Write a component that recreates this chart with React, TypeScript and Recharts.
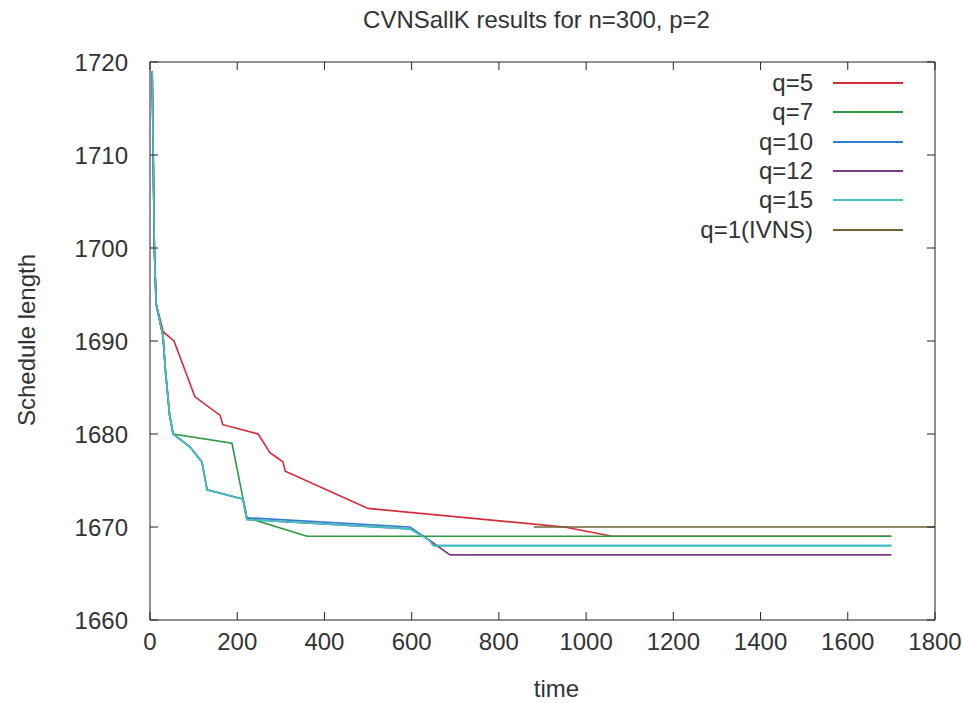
import { LineChart, Line, XAxis, YAxis } from "recharts";

// time (x) and schedule length (y), per series
const Q5_T = [5, 10, 14, 25, 30, 55, 103, 161, 167, 248, 275, 290, 305, 310, 500, 950, 1060, 1700];
const Q5_V = [1719, 1700, 1694, 1692, 1691, 1690, 1684, 1682, 1681, 1680, 1678, 1677.5, 1677, 1676, 1672, 1670, 1669, 1669];

const Q7_T = [5, 10, 14, 23, 30, 35, 45, 53, 188, 222, 360, 1700];
const Q7_V = [1719, 1700, 1694, 1692, 1690.5, 1687, 1682, 1680, 1679, 1671, 1669, 1669];

const Q10_T = [5, 10, 14, 23, 30, 35, 45, 53, 92, 119, 131, 213, 222, 596, 640, 650, 1700];
const Q10_V = [1719, 1700, 1694, 1692, 1690.5, 1687, 1682, 1680, 1678.6, 1677, 1674, 1673, 1671, 1670, 1668.6, 1668, 1668];

const Q12_T = [5, 10, 14, 23, 30, 35, 45, 53, 92, 119, 131, 213, 222, 596, 640, 688, 1700];
const Q12_V = [1719, 1700, 1694, 1692, 1690.5, 1687, 1682, 1680, 1678.6, 1677, 1674, 1673, 1670.8, 1669.8, 1668.6, 1667, 1667];

const Q15_T = [5, 10, 14, 23, 30, 35, 45, 53, 92, 119, 131, 213, 222, 596, 640, 650, 1700];
const Q15_V = [1719, 1700, 1694, 1692, 1690.5, 1687, 1682, 1680, 1678.6, 1677, 1674, 1673, 1670.8, 1669.8, 1668.6, 1668, 1668];

const Q1_T = [880, 1800];
const Q1_V = [1670, 1670];

const X_TICKS = [0, 200, 400, 600, 800, 1000, 1200, 1400, 1600, 1800];
const Y_TICKS = [1660, 1670, 1680, 1690, 1700, 1710, 1720];

const FONT = "'Liberation Sans', Arial, sans-serif";
const INK = "#333";

const toPoints = (ts: number[], vs: number[]) => ts.map((t, i) => ({ t, v: vs[i] }));

const SERIES = [
  { name: "q=5", color: "#d42a3a", data: toPoints(Q5_T, Q5_V) },
  { name: "q=7", color: "#2e9a40", data: toPoints(Q7_T, Q7_V) },
  { name: "q=10", color: "#2f7fd0", data: toPoints(Q10_T, Q10_V) },
  { name: "q=12", color: "#7a3a86", data: toPoints(Q12_T, Q12_V) },
  { name: "q=15", color: "#3cc8c0", data: toPoints(Q15_T, Q15_V) },
  { name: "q=1(IVNS)", color: "#6e6438", data: toPoints(Q1_T, Q1_V) },
];

const BottomTick = (props: any) => {
  const { x, y, payload } = props;
  return (
    <g>
      <line x1={x} y1={y} x2={x} y2={y - 8} stroke="#222" />
      <text x={x} y={y + 30} textAnchor="middle" fontSize={24} fontFamily={FONT} fill={INK}>
        {payload.value}
      </text>
    </g>
  );
};

const TopTick = (props: any) => {
  const { x, y } = props;
  return <line x1={x} y1={y} x2={x} y2={y + 8} stroke="#222" />;
};

const LeftTick = (props: any) => {
  const { x, y, payload } = props;
  return (
    <g>
      <line x1={x} y1={y} x2={x + 8} y2={y} stroke="#222" />
      <text x={x - 22} y={y + 9} textAnchor="end" fontSize={24} fontFamily={FONT} fill={INK}>
        {payload.value}
      </text>
    </g>
  );
};

const RightTick = (props: any) => {
  const { x, y } = props;
  return <line x1={x - 8} y1={y} x2={x} y2={y} stroke="#222" />;
};

export default function App() {
  return (
    <div
      style={{
        position: "absolute",
        left: 0,
        top: 0,
        width: 963,
        height: 703,
        background: "#fff",
        fontFamily: FONT,
        color: INK,
      }}
    >
      <div style={{ position: "absolute", left: 0, width: 963, top: 6, textAlign: "center", fontSize: 24, paddingLeft: 110, boxSizing: "border-box" }}>
        CVNSallK results for n=300, p=2
      </div>
      <LineChart width={963} height={703} margin={{ top: 61, right: 27, bottom: 53, left: 90 }}>
        <XAxis
          dataKey="t"
          type="number"
          domain={[0, 1800]}
          ticks={X_TICKS}
          allowDataOverflow
          height={30}
          tickSize={0}
          tickMargin={0}
          axisLine={{ stroke: "#222" }}
          tick={BottomTick}
        />
        <XAxis
          xAxisId="top"
          orientation="top"
          dataKey="t"
          type="number"
          domain={[0, 1800]}
          ticks={X_TICKS}
          allowDataOverflow
          height={1}
          tickSize={0}
          tickMargin={0}
          axisLine={{ stroke: "#222" }}
          tick={TopTick}
        />
        <YAxis
          dataKey="v"
          type="number"
          domain={[1660, 1720]}
          ticks={Y_TICKS}
          allowDataOverflow
          width={60}
          tickSize={0}
          tickMargin={0}
          axisLine={{ stroke: "#222" }}
          tick={LeftTick}
        />
        <YAxis
          yAxisId="right"
          orientation="right"
          dataKey="v"
          type="number"
          domain={[1660, 1720]}
          ticks={Y_TICKS}
          allowDataOverflow
          width={1}
          tickSize={0}
          tickMargin={0}
          axisLine={{ stroke: "#222" }}
          tick={RightTick}
        />
        {SERIES.map((s) => (
          <Line
            key={s.name}
            data={s.data}
            dataKey="v"
            name={s.name}
            stroke={s.color}
            strokeWidth={1.6}
            dot={false}
            isAnimationActive={false}
          />
        ))}
      </LineChart>
      <div style={{ position: "absolute", left: 0, width: 963, top: 675, paddingLeft: 150, boxSizing: "border-box", textAlign: "center", fontSize: 24 }}>
        time
      </div>
      <div
        style={{
          position: "absolute",
          left: 27,
          top: 340,
          fontSize: 24,
          whiteSpace: "nowrap",
          transform: "translate(-50%, -50%) rotate(-90deg)",
        }}
      >
        Schedule length
      </div>
      {SERIES.map((s, i) => (
        <div key={s.name} style={{ position: "absolute", top: Math.round(83 + i * 29.3) - 14, left: 600, height: 28, width: 305 }}>
          <span style={{ position: "absolute", right: 92, top: 0, fontSize: 24, lineHeight: "28px" }}>{s.name}</span>
          <span style={{ position: "absolute", left: 233, top: 13, width: 70, height: 2, background: s.color }} />
        </div>
      ))}
    </div>
  );
}
